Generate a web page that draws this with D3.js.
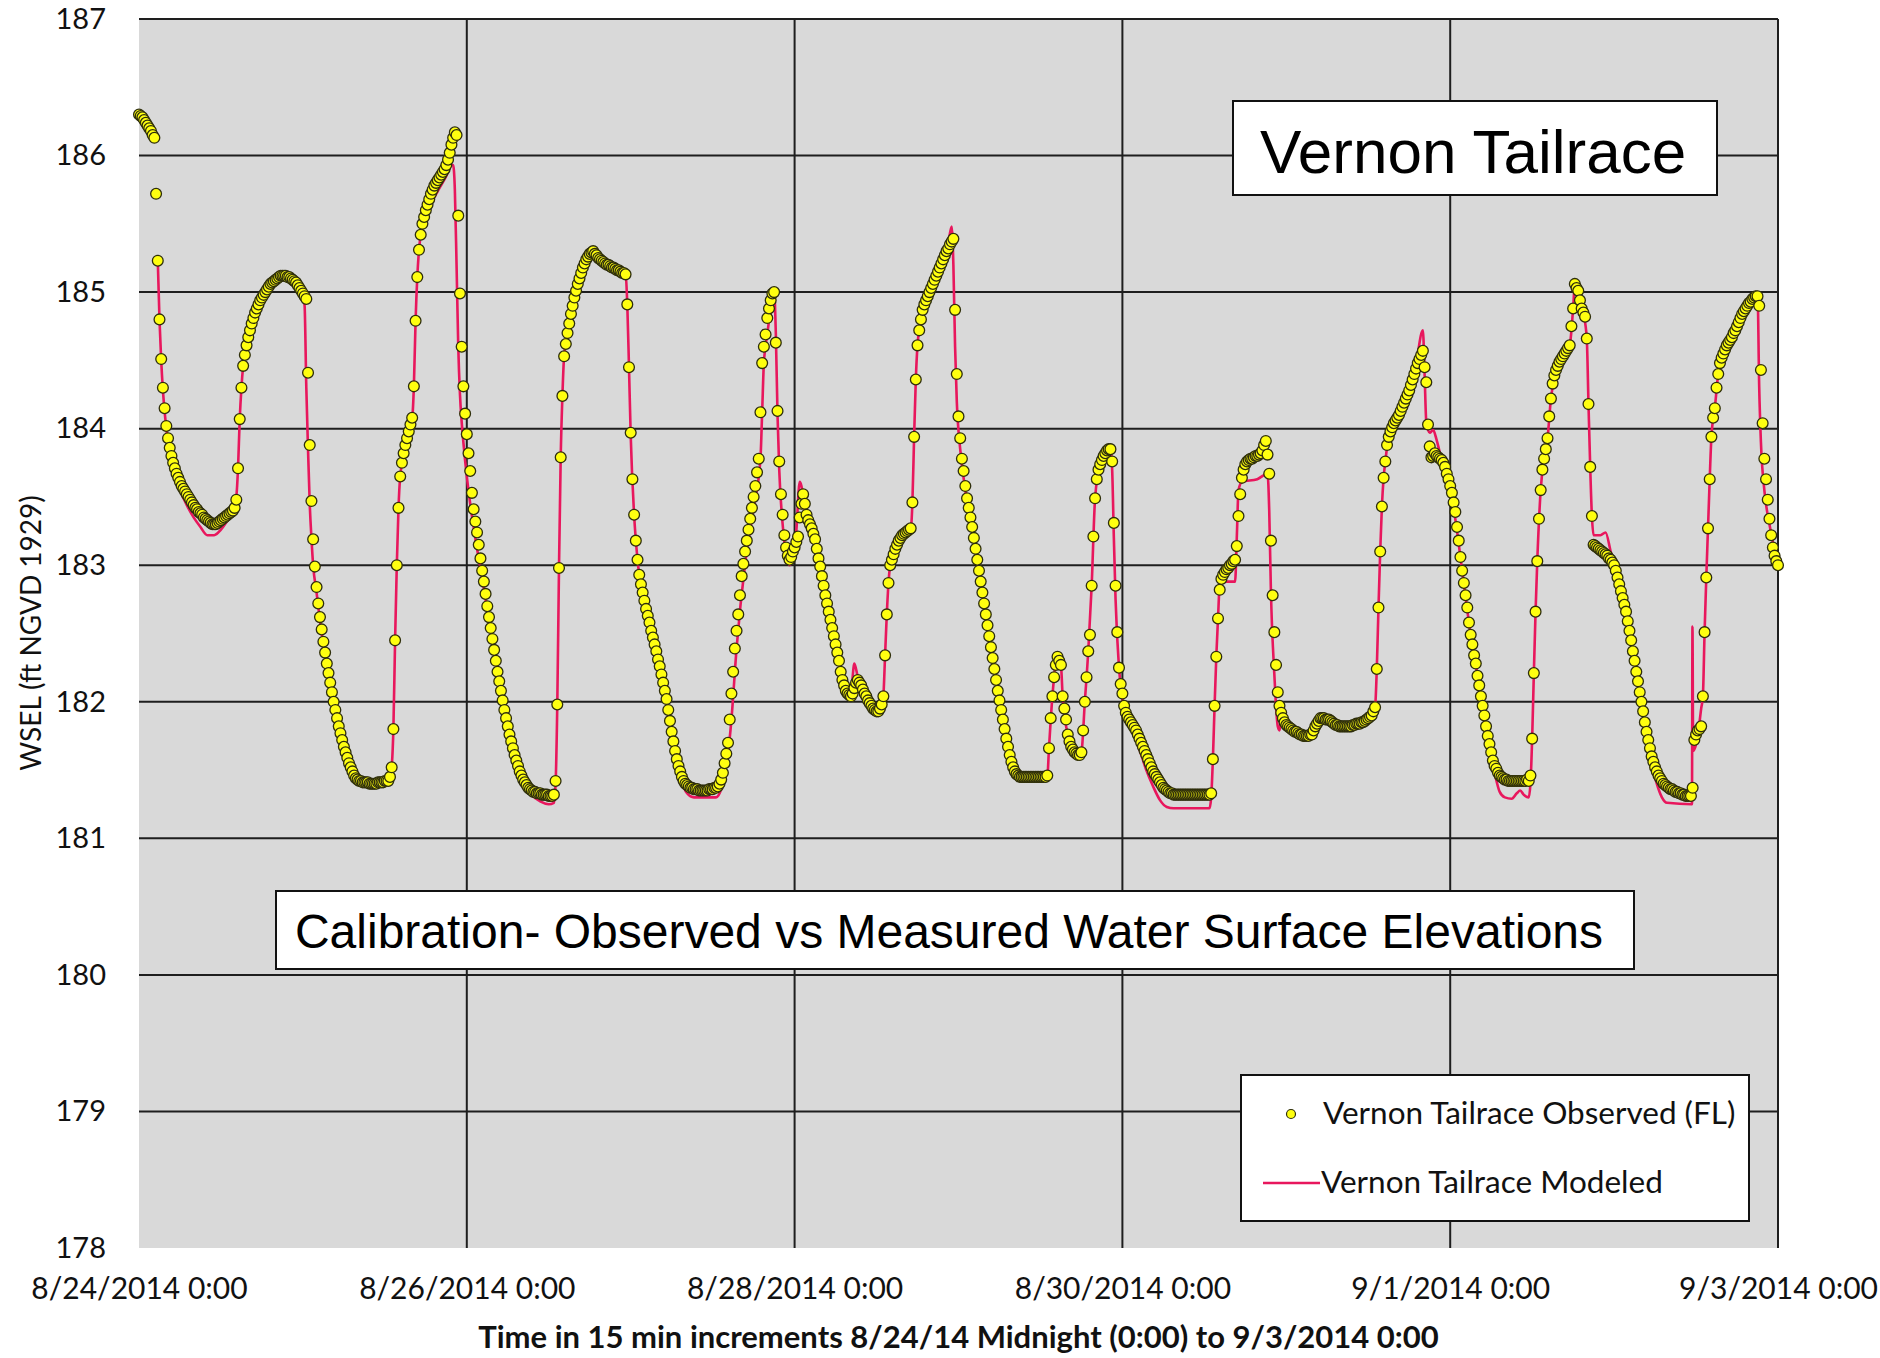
<!DOCTYPE html>
<html><head><meta charset="utf-8">
<script src="https://cdn.jsdelivr.net/npm/d3@7/dist/d3.min.js"></script>
<style>body{margin:0;background:#fff}svg{display:block}</style>
</head><body>
<svg id="chart" width="1880" height="1358"></svg>
<script>
// ---------------- DATA ----------------
const startDate = new Date(2014, 7, 24, 0, 0);
const endDate = new Date(2014, 8, 3, 0, 0);
const stepMinutes = 15;
const pointsPerDay = 96;
const yTicks = [178, 179, 180, 181, 182, 183, 184, 185, 186, 187];
const xTickLabels = ["8/24/2014 0:00", "8/26/2014 0:00", "8/28/2014 0:00", "8/30/2014 0:00", "9/1/2014 0:00", "9/3/2014 0:00"];
const xTickDates = [new Date(2014,7,24), new Date(2014,7,26), new Date(2014,7,28), new Date(2014,7,30), new Date(2014,8,1), new Date(2014,8,3)];
const seriesNames = ["Vernon Tailrace Observed (FL)", "Vernon Tailrace Modeled"];
const titleText = "Vernon Tailrace";
const subtitleText = "Calibration- Observed vs Measured Water Surface Elevations";
const xAxisTitle = "Time in 15 min increments 8/24/14 Midnight (0:00) to 9/3/2014 0:00";
const yAxisTitle = "WSEL (ft NGVD 1929)";

// Observed WSEL, 15-minute values, one array per day
const obsDay1 = [186.30,186.29,186.28,186.26,186.24,186.22,186.20,186.18,186.15,186.13,
185.72,185.23,184.80,184.51,184.30,184.15,184.02,183.93,183.86,183.80,
183.75,183.71,183.67,183.64,183.61,183.58,183.56,183.54,183.52,183.50,
183.48,183.46,183.44,183.42,183.41,183.39,183.38,183.37,183.35,183.34,
183.33,183.32,183.31,183.30,183.30,183.30,183.31,183.32,183.33,183.34,
183.35,183.36,183.37,183.38,183.39,183.40,183.42,183.48,183.71,184.07,
184.30,184.46,184.54,184.61,184.67,184.72,184.77,184.81,184.85,184.88,
184.91,184.94,184.96,184.98,185.00,185.02,185.04,185.06,185.07,185.08,
185.09,185.10,185.11,185.12,185.12,185.12,185.12,185.11,185.11,185.10,
185.09,185.08,185.07,185.05,185.03,185.01];
const obsDay2 = [184.99,184.97,184.95,184.41,183.88,183.47,183.19,182.99,182.84,182.72,
182.62,182.53,182.44,182.36,182.28,182.21,182.14,182.07,182.00,181.94,
181.88,181.82,181.77,181.72,181.67,181.63,181.59,181.55,181.52,181.49,
181.46,181.44,181.43,181.42,181.42,181.41,181.41,181.41,181.41,181.40,
181.40,181.40,181.40,181.40,181.41,181.41,181.41,181.41,181.42,181.42,
181.42,181.45,181.52,181.80,182.45,183.00,183.42,183.65,183.75,183.82,
183.88,183.93,183.98,184.03,184.08,184.31,184.79,185.11,185.31,185.42,
185.50,185.55,185.60,185.64,185.68,185.72,185.75,185.78,185.80,185.82,
185.84,185.86,185.88,185.90,185.93,185.97,186.02,186.08,186.13,186.17,
186.15,185.56,184.99,184.60,184.31,184.11];
const obsDay3 = [183.96,183.82,183.69,183.53,183.41,183.32,183.24,183.15,183.05,182.96,
182.88,182.79,182.70,182.62,182.54,182.46,182.38,182.30,182.22,182.15,
182.08,182.01,181.94,181.88,181.82,181.76,181.71,181.66,181.61,181.57,
181.53,181.49,181.46,181.43,181.41,181.39,181.37,181.36,181.35,181.34,
181.34,181.33,181.33,181.33,181.32,181.32,181.32,181.32,181.31,181.31,
181.31,181.32,181.42,181.98,182.98,183.79,184.24,184.53,184.62,184.70,
184.77,184.84,184.90,184.96,185.01,185.06,185.10,185.14,185.18,185.21,
185.24,185.26,185.28,185.29,185.30,185.28,185.27,185.25,185.24,185.23,
185.22,185.21,185.20,185.20,185.19,185.18,185.18,185.17,185.16,185.16,
185.15,185.14,185.14,185.13,184.91,184.45];
const obsDay4 = [183.97,183.63,183.37,183.18,183.04,182.93,182.86,182.80,182.74,182.68,
182.63,182.58,182.52,182.47,182.42,182.37,182.31,182.26,182.20,182.14,
182.08,182.02,181.94,181.86,181.78,181.71,181.64,181.58,181.53,181.49,
181.45,181.42,181.40,181.39,181.38,181.37,181.37,181.36,181.36,181.36,
181.35,181.35,181.35,181.35,181.35,181.35,181.36,181.36,181.36,181.37,
181.37,181.38,181.40,181.43,181.48,181.55,181.62,181.70,181.87,182.06,
182.22,182.39,182.52,182.64,182.78,182.92,183.01,183.10,183.18,183.26,
183.34,183.42,183.50,183.58,183.68,183.78,184.12,184.48,184.60,184.69,
184.81,184.88,184.94,184.99,185.00,184.63,184.13,183.76,183.52,183.37,
183.22,183.13,183.07,183.04,183.06,183.10];
const obsDay5 = [183.13,183.17,183.21,183.35,183.45,183.52,183.45,183.37,183.33,183.30,
183.27,183.23,183.19,183.12,183.05,182.99,182.92,182.85,182.78,182.72,
182.66,182.60,182.54,182.48,182.42,182.36,182.30,182.22,182.16,182.12,
182.08,182.06,182.05,182.04,182.06,182.10,182.14,182.16,182.14,182.12,
182.09,182.06,182.04,182.01,181.99,181.97,181.95,181.94,181.93,181.93,
181.95,181.98,182.04,182.34,182.64,182.87,183.00,183.04,183.08,183.12,
183.15,183.18,183.20,183.22,183.23,183.24,183.25,183.26,183.27,183.46,
183.94,184.36,184.61,184.72,184.80,184.87,184.91,184.94,184.97,185.00,
185.03,185.06,185.09,185.12,185.15,185.18,185.21,185.24,185.27,185.30,
185.32,185.35,185.37,185.39,184.87,184.40];
const obsDay6 = [184.09,183.93,183.78,183.69,183.58,183.49,183.42,183.35,183.28,183.20,
183.12,183.04,182.96,182.88,182.80,182.72,182.64,182.56,182.48,182.40,
182.32,182.24,182.16,182.08,182.01,181.94,181.87,181.80,181.73,181.67,
181.61,181.56,181.52,181.49,181.47,181.46,181.45,181.45,181.45,181.45,
181.45,181.45,181.45,181.45,181.45,181.45,181.45,181.45,181.45,181.45,
181.45,181.45,181.46,181.66,181.88,182.04,182.18,182.27,182.33,182.30,
182.27,182.04,181.95,181.87,181.76,181.71,181.67,181.65,181.63,181.62,
181.61,181.61,181.63,181.79,182.00,182.18,182.37,182.49,182.85,183.21,
183.49,183.63,183.70,183.74,183.77,183.80,183.82,183.84,183.85,183.85,
183.76,183.31,182.85,182.51,182.25,182.13];
const obsDay7 = [182.06,181.97,181.92,181.89,181.87,181.85,181.83,181.81,181.79,181.76,
181.73,181.70,181.67,181.64,181.61,181.58,181.55,181.52,181.49,181.47,
181.45,181.43,181.41,181.39,181.37,181.36,181.35,181.34,181.33,181.33,
181.32,181.32,181.32,181.32,181.32,181.32,181.32,181.32,181.32,181.32,
181.32,181.32,181.32,181.32,181.32,181.32,181.32,181.32,181.32,181.32,
181.32,181.32,181.33,181.58,181.97,182.33,182.61,182.82,182.90,182.93,
182.95,182.97,182.98,183.00,183.01,183.03,183.04,183.14,183.36,183.52,
183.64,183.70,183.74,183.76,183.77,183.78,183.78,183.79,183.80,183.80,
183.81,183.82,183.84,183.88,183.91,183.81,183.67,183.18,182.78,182.51,
182.27,182.07,181.97,181.92,181.88,181.85];
const obsDay8 = [181.83,181.82,181.81,181.80,181.79,181.78,181.78,181.77,181.76,181.76,
181.75,181.75,181.75,181.75,181.76,181.76,181.79,181.82,181.84,181.86,
181.88,181.88,181.88,181.87,181.87,181.87,181.86,181.85,181.84,181.83,
181.83,181.82,181.82,181.82,181.82,181.82,181.82,181.82,181.82,181.83,
181.83,181.84,181.84,181.84,181.85,181.85,181.86,181.87,181.88,181.89,
181.90,181.93,181.96,182.24,182.69,183.10,183.43,183.64,183.76,183.88,
183.94,183.98,184.01,184.04,184.06,184.08,184.10,184.13,184.16,184.19,
184.22,184.25,184.28,184.32,184.36,184.40,184.44,184.48,184.51,184.54,
184.57,184.45,184.34,184.03,183.87,183.79,183.80,183.82,183.80,183.79,
183.78,183.77,183.75,183.72,183.67,183.63];
const obsDay9 = [183.58,183.53,183.46,183.39,183.28,183.18,183.06,182.96,182.87,182.78,
182.69,182.58,182.49,182.42,182.34,182.28,182.19,182.12,182.04,181.97,
181.90,181.82,181.75,181.69,181.63,181.57,181.53,181.51,181.48,181.46,
181.45,181.44,181.43,181.43,181.42,181.42,181.42,181.42,181.42,181.42,
181.42,181.42,181.42,181.42,181.42,181.43,181.42,181.46,181.73,182.21,
182.66,183.03,183.34,183.55,183.70,183.78,183.85,183.93,184.09,184.22,
184.33,184.39,184.43,184.46,184.49,184.51,184.53,184.55,184.57,184.59,
184.61,184.75,184.88,185.06,185.03,185.01,184.94,184.88,184.85,184.82,
184.66,184.18,183.72,183.36,183.15,183.14,183.13,183.12,183.11,183.10,
183.09,183.08,183.07,183.05,183.04,183.02];
const obsDay10 = [183.00,182.96,182.91,182.86,182.81,182.76,182.71,182.66,182.59,182.52,
182.45,182.37,182.30,182.22,182.15,182.07,182.00,181.93,181.85,181.78,
181.72,181.66,181.60,181.56,181.52,181.49,181.46,181.44,181.42,181.40,
181.39,181.38,181.37,181.36,181.36,181.35,181.34,181.34,181.33,181.33,
181.32,181.32,181.31,181.31,181.31,181.31,181.37,181.72,181.76,181.79,
181.80,181.82,182.04,182.51,182.91,183.27,183.63,183.94,184.08,184.15,
184.30,184.40,184.48,184.52,184.55,184.58,184.61,184.63,184.65,184.67,
184.70,184.72,184.75,184.78,184.81,184.84,184.86,184.88,184.90,184.92,
184.93,184.95,184.96,184.97,184.97,184.90,184.43,184.04,183.78,183.63,
183.48,183.34,183.22,183.13,183.07,183.03,183.00];

// Modeled WSEL: [15-min step index, value] vertices of the line
const modeled = [[11,185.23],[12,184.80],[13,184.50],[14,184.28],[16,184.00],[18,183.82],[20,183.70],[24,183.55],[28,183.44],[32,183.35],[36,183.28],[40,183.22],[44,183.22],[48,183.26],[52,183.33],[55,183.38],[57,183.50],[58,183.71],[59,184.07],[60,184.30],[61,184.46],[64,184.66],[68,184.85],[72,184.96],[76,185.04],[80,185.09],[84,185.12],[88,185.11],[92,185.07],[96,184.99],[97,184.90],[98,184.30],[99,183.85],[100,183.45],[101,183.20],[102,183.00],[104,182.80],[107,182.50],[110,182.26],[114,181.98],[118,181.74],[122,181.57],[126,181.45],[130,181.41],[145,181.40],[147,181.44],[148,181.52],[149,181.80],[150,182.45],[151,183.00],[152,183.42],[153,183.65],[155,183.80],[158,183.96],[160,184.07],[161,184.31],[162,184.79],[163,185.11],[164,185.31],[166,185.48],[170,185.62],[175,185.74],[180,185.85],[183,185.93],[184,185.93],[185,185.75],[186,185.20],[187,184.60],[188,184.25],[189,184.05],[190,183.90],[192,183.65],[194,183.45],[196,183.28],[198,183.12],[200,182.98],[203,182.75],[206,182.52],[210,182.20],[214,181.93],[218,181.70],[222,181.52],[226,181.40],[230,181.32],[235,181.27],[240,181.25],[243,181.26],[244,181.40],[245,181.98],[246,182.98],[247,183.79],[248,184.24],[249,184.53],[255,184.96],[260,185.18],[265,185.27],[270,185.24],[280,185.17],[285,185.13],[286,184.91],[287,184.45],[288,183.95],[290,183.37],[292,183.04],[296,182.74],[300,182.50],[305,182.24],[309,182.00],[313,181.68],[317,181.45],[321,181.33],[325,181.30],[338,181.30],[341,181.36],[343,181.48],[345,181.62],[347,181.87],[350,182.39],[355,183.01],[360,183.42],[364,183.78],[365,184.12],[366,184.48],[368,184.69],[370,184.88],[372,185.00],[373,184.70],[374,184.10],[375,183.70],[377,183.30],[379,183.08],[381,183.00],[383,183.05],[385,183.25],[387,183.61],[388,183.58],[390,183.40],[393,183.27],[397,183.10],[400,182.90],[405,182.58],[410,182.28],[414,182.10],[417,182.08],[419,182.28],[421,182.18],[424,182.06],[428,181.97],[432,181.92],[435,181.95],[436,182.04],[437,182.34],[438,182.64],[439,182.87],[440,183.00],[445,183.17],[452,183.26],[453,183.46],[454,183.94],[455,184.36],[456,184.61],[459,184.87],[465,185.06],[470,185.22],[474,185.36],[476,185.48],[477,185.20],[478,184.60],[479,184.20],[481,183.85],[484,183.55],[488,183.25],[492,182.95],[496,182.64],[500,182.32],[504,182.01],[508,181.73],[512,181.52],[515,181.46],[532,181.45],[533,181.66],[535,182.04],[538,182.33],[540,182.27],[541,182.04],[544,181.76],[548,181.63],[551,181.61],[552,181.63],[554,182.00],[556,182.37],[558,182.85],[560,183.49],[563,183.74],[567,183.82],[569,183.85],[570,183.70],[571,183.20],[572,182.75],[574,182.25],[576,182.02],[578,181.88],[582,181.78],[586,181.65],[590,181.50],[594,181.38],[598,181.28],[602,181.23],[606,181.22],[627,181.22],[628,181.30],[629,181.58],[630,181.97],[631,182.33],[632,182.61],[633,182.85],[635,182.88],[642,182.88],[643,183.20],[644,183.55],[646,183.61],[655,183.63],[661,183.67],[662,183.40],[663,182.80],[665,182.20],[667,181.82],[668,181.79],[669,181.86],[672,181.83],[677,181.78],[684,181.75],[688,181.79],[692,181.88],[697,181.87],[702,181.83],[710,181.82],[716,181.85],[722,181.90],[724,181.96],[725,182.24],[726,182.69],[727,183.10],[728,183.43],[729,183.64],[730,183.76],[732,183.94],[736,184.06],[740,184.16],[744,184.30],[748,184.48],[752,184.72],[753,184.40],[754,184.05],[756,183.97],[758,183.99],[760,183.92],[762,183.82],[765,183.68],[768,183.55],[770,183.42],[772,183.25],[775,182.96],[780,182.49],[785,182.12],[790,181.72],[794,181.48],[797,181.34],[800,181.30],[804,181.29],[807,181.33],[809,181.35],[811,181.32],[814,181.30],[815,181.40],[816,181.73],[817,182.21],[818,182.66],[819,183.03],[821,183.55],[823,183.78],[825,183.93],[827,184.22],[830,184.43],[834,184.53],[838,184.61],[840,184.88],[841,185.05],[843,185.01],[846,184.85],[848,184.66],[849,184.18],[850,183.72],[851,183.36],[852,183.22],[856,183.22],[859,183.24],[862,183.10],[866,182.91],[870,182.71],[875,182.37],[880,182.00],[885,181.62],[889,181.40],[892,181.30],[895,181.26],[909.6,181.25],[909.9,182.55],[910.3,181.64],[913,181.75],[915,181.95],[916,182.04],[917,182.51],[918,182.91],[919,183.27],[920,183.63],[921,183.94],[923,184.15],[925,184.40],[930,184.61],[935,184.72],[940,184.86],[945,184.95],[948,184.99],[949,184.30],[950,183.90],[952,183.55],[955,183.30],[960,183.00]];

// ---------------- CHART ----------------
const svg = d3.select("#chart");
const plot = {left: 139, right: 1778, top: 19, bottom: 1248};
const x = d3.scaleTime().domain([startDate, endDate]).range([plot.left, plot.right]);
const y = d3.scaleLinear().domain([178, 187]).range([plot.bottom, plot.top]);
const tAt = i => new Date(startDate.getTime() + i * stepMinutes * 60000);

const observedDays = [obsDay1, obsDay2, obsDay3, obsDay4, obsDay5, obsDay6, obsDay7, obsDay8, obsDay9, obsDay10];
const observed = [];
observedDays.forEach((arr, d) => arr.forEach((v, j) => observed.push({t: tAt(d * pointsPerDay + j), v})));
const modeledPts = modeled.map(([i, v]) => ({t: tAt(i), v}));

const labelFont = "Lato, 'Open Sans', sans-serif";
const boxFont = "'Liberation Sans', Arial, sans-serif";

// plot background
svg.append("rect").attr("x", plot.left).attr("y", plot.top)
  .attr("width", plot.right - plot.left).attr("height", plot.bottom - plot.top)
  .attr("fill", "#d9d9d9");

// gridlines
const grid = svg.append("g").attr("stroke", "#1e1e1e").attr("stroke-width", 2);
yTicks.filter(v => v > 178).forEach(v => {
  grid.append("line").attr("x1", plot.left).attr("x2", plot.right).attr("y1", y(v)).attr("y2", y(v));
});
xTickDates.slice(1).forEach(d => {
  grid.append("line").attr("x1", x(d)).attr("x2", x(d)).attr("y1", plot.top).attr("y2", plot.bottom);
});

// y axis
const yAxis = svg.append("g").attr("transform", `translate(${plot.left - 33},0)`)
  .call(d3.axisLeft(y).tickValues(yTicks).tickSize(0).tickPadding(0).tickFormat(d3.format("d")));
yAxis.select(".domain").remove();
yAxis.selectAll("text").attr("font-family", labelFont).attr("font-size", 29).attr("fill", "#111");

// x axis
const xAxis = svg.append("g").attr("transform", `translate(0,${plot.bottom})`)
  .call(d3.axisBottom(x).tickValues(xTickDates).tickSize(0).tickPadding(30).tickFormat((d, i) => xTickLabels[i]));
xAxis.select(".domain").remove();
xAxis.selectAll("text").attr("font-family", labelFont).attr("font-size", 30).attr("fill", "#111");

// axis titles
svg.append("text").attr("x", (plot.left + plot.right) / 2).attr("y", 1348)
  .attr("text-anchor", "middle").attr("font-family", labelFont).attr("font-weight", "bold")
  .attr("font-size", 31).attr("fill", "#111").text(xAxisTitle);
svg.append("text").attr("transform", "translate(41,633) rotate(-90)")
  .attr("text-anchor", "middle").attr("font-family", labelFont)
  .attr("font-size", 28).attr("fill", "#111").text(yAxisTitle);

// modeled line
const modelColor = "#e8175d";
svg.append("path").datum(modeledPts)
  .attr("fill", "none").attr("stroke", modelColor).attr("stroke-width", 2.6)
  .attr("stroke-linejoin", "round")
  .attr("d", d3.line().x(d => x(d.t)).y(d => y(d.v)).curve(d3.curveMonotoneX));

// observed points
svg.append("g").selectAll("circle").data(observed).join("circle")
  .attr("cx", d => x(d.t)).attr("cy", d => y(d.v)).attr("r", 5.4)
  .attr("fill", "#ffff10").attr("stroke", "#2e2e0c").attr("stroke-width", 1.3);

// title box
const tb = {x: 1233, y: 101, w: 484, h: 94};
svg.append("rect").attr("x", tb.x).attr("y", tb.y).attr("width", tb.w).attr("height", tb.h)
  .attr("fill", "#fff").attr("stroke", "#111").attr("stroke-width", 2);
svg.append("text").attr("x", tb.x + tb.w / 2 - 2).attr("y", 173).attr("text-anchor", "middle")
  .attr("font-family", boxFont).attr("font-size", 62).attr("fill", "#000").text(titleText);

// subtitle box
const sb = {x: 276, y: 891, w: 1358, h: 78};
svg.append("rect").attr("x", sb.x).attr("y", sb.y).attr("width", sb.w).attr("height", sb.h)
  .attr("fill", "#fff").attr("stroke", "#111").attr("stroke-width", 2);
svg.append("text").attr("x", sb.x + sb.w / 2 - 6).attr("y", 948).attr("text-anchor", "middle")
  .attr("font-family", boxFont).attr("font-size", 48).attr("fill", "#000").text(subtitleText);

// legend
const lg = {x: 1241, y: 1075, w: 508, h: 146};
svg.append("rect").attr("x", lg.x).attr("y", lg.y).attr("width", lg.w).attr("height", lg.h)
  .attr("fill", "#fff").attr("stroke", "#111").attr("stroke-width", 2);
svg.append("circle").attr("cx", 1291).attr("cy", 1114).attr("r", 4.5)
  .attr("fill", "#ffff10").attr("stroke", "#2e2e0c").attr("stroke-width", 1.2);
svg.append("line").attr("x1", 1263).attr("x2", 1320).attr("y1", 1183).attr("y2", 1183)
  .attr("stroke", modelColor).attr("stroke-width", 2.6);
svg.append("text").attr("x", 1323).attr("y", 1124).attr("font-family", labelFont)
  .attr("font-size", 31.5).attr("fill", "#111").text(seriesNames[0]);
svg.append("text").attr("x", 1321).attr("y", 1193).attr("font-family", labelFont)
  .attr("font-size", 31.5).attr("fill", "#111").text(seriesNames[1]);
</script>
</body></html>
